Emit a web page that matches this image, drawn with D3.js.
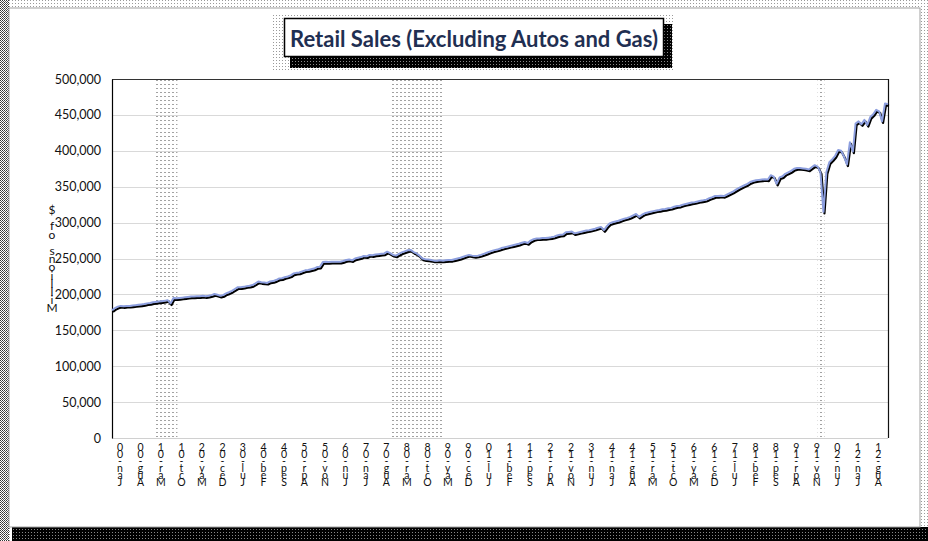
<!DOCTYPE html>
<html><head><meta charset="utf-8">
<script src="https://cdn.jsdelivr.net/npm/d3@7"></script>
<style>html,body{margin:0;padding:0;background:#fff}svg{display:block}</style>
</head><body>
<svg id="chart" width="928" height="541"></svg>
<script>
// ---------------- DATA ----------------
const chartTitle = "Retail Sales (Excluding Autos and Gas)";
const yAxisTitle = "Millions of $";
const firstMonth = "2000-01";
// Monthly retail sales excluding autos and gas, millions of $, Jan 2000 - Feb 2022
const sales = [
  178000,181000,183000,184000,183500,184000,184000,184500,185000,185500,186000,186500, // 2000
  187500,188000,189000,189500,190000,190500,191000,192000,187500,195000,194500,195000, // 2001
  195500,196000,196500,197000,197000,197500,197500,198000,197500,198000,199000,200500, // 2002
  199500,198000,199000,201500,203000,205000,207500,210000,210000,210500,211500,212000, // 2003
  213000,215500,218000,217000,216500,216000,218000,218500,220000,222000,222500,224000, // 2004
  225000,226500,229000,230000,230500,232000,233500,234000,235000,236000,238000,238500, // 2005
  245000,245500,245000,245500,245500,245500,245500,246500,248000,248500,247500,250000, // 2006
  251000,252000,253500,253000,255000,254500,255500,256000,256500,257000,259500,257500, // 2007
  255000,254000,256500,258500,260000,261500,262000,259000,257000,254000,250000,249000, // 2008
  248500,248000,247000,247000,247500,247000,247500,248000,248000,249000,250000,251000, // 2009
  252500,254000,255000,254000,253500,254000,255000,256500,258000,259500,261000,262000, // 2010
  263000,264500,265500,266500,267500,268500,269500,270500,272000,273000,271500,275000, // 2011
  277000,278000,278000,278500,278500,279000,279500,280500,282000,283000,283500,286500, // 2012
  287000,287500,285000,286000,287000,288000,289000,289500,290500,291500,293000,294000, // 2013
  289500,295000,299000,300500,301500,302500,304000,305500,306500,308000,310000,312000, // 2014
  308000,311000,313000,314000,315000,316000,317000,317500,318500,319000,320000,320500, // 2015
  322000,323000,323500,325000,326000,327000,328000,328500,329500,330500,331000,332000, // 2016
  334000,335500,337000,337000,337500,337000,339000,341000,343000,345500,348000,350000, // 2017
  352000,354000,356500,358000,359000,359500,360000,360500,360000,366000,364000,354000, // 2018
  363000,364500,368000,370000,372000,375000,376000,376000,375500,375000,374000,377000, // 2019
  380000,378000,370000,315000,370000,384000,388000,393000,401000,400000,392000,381000, // 2020
  412000,399000,438000,441000,437000,443000,436000,447000,451000,457000,455000,441000, // 2021
  466000,465000                                                                        // 2022
];
const xTickLabels = ["Jan-00","Aug-00","Mar-01","Oct-01","May-02","Dec-02","Jul-03","Feb-04","Sep-04",
  "Apr-05","Nov-05","Jun-06","Jan-07","Aug-07","Mar-08","Oct-08","May-09","Dec-09","Jul-10","Feb-11",
  "Sep-11","Apr-12","Nov-12","Jun-13","Jan-14","Aug-14","Mar-15","Oct-15","May-16","Dec-16","Jul-17",
  "Feb-18","Sep-18","Apr-19","Nov-19","Jun-20","Jan-21","Aug-21"];
const yTickValues = [0,50000,100000,150000,200000,250000,300000,350000,400000,450000,500000];
const recessionStarts = ["2001-04","2007-12","2020-02"];
const recessionEnds   = ["2001-11","2009-06","2020-04"];

// ---------------- LAYOUT ----------------
const svg = d3.select("#chart");
const W = 928, H = 541;
const plot = {left:112, right:888, top:79, bottom:438};
const parseYM = d3.timeParse("%Y-%m");
const parseLbl = d3.timeParse("%b-%y");
const start = parseYM(firstMonth);
const data = sales.map((v,i)=>({date:d3.timeMonth.offset(start,i), value:v}));

const x = d3.scaleTime()
  .domain([data[0].date, data[data.length-1].date])
  .range([plot.left, plot.right]);
const y = d3.scaleLinear().domain([0,500000]).range([plot.bottom, plot.top]);

// patterns
const defs = svg.append("defs");
const pLight = defs.append("pattern").attr("id","lightDither").attr("patternUnits","userSpaceOnUse")
  .attr("width",3).attr("height",3);
pLight.append("rect").attr("width",3).attr("height",3).attr("fill","#fff");
pLight.append("rect").attr("x",0).attr("y",0).attr("width",1).attr("height",1).attr("fill","#9a9a9a");
const pMid = defs.append("pattern").attr("id","midDither").attr("patternUnits","userSpaceOnUse")
  .attr("width",2).attr("height",2);
pMid.append("rect").attr("width",2).attr("height",2).attr("fill","#fff");
pMid.append("rect").attr("width",1).attr("height",1).attr("fill","#333");
pMid.append("rect").attr("x",1).attr("y",1).attr("width",1).attr("height",1).attr("fill","#555");
const pDark = defs.append("pattern").attr("id","darkDither").attr("patternUnits","userSpaceOnUse")
  .attr("width",3).attr("height",3);
pDark.append("rect").attr("width",3).attr("height",3).attr("fill","#000");
pDark.append("rect").attr("x",1).attr("y",1).attr("width",1).attr("height",1).attr("fill","#888");
const pDots = defs.append("pattern").attr("id","recDots").attr("patternUnits","userSpaceOnUse")
  .attr("width",4).attr("height",4).attr("x",plot.left+0.5).attr("y",plot.top);
pDots.append("rect").attr("x",0).attr("y",1).attr("width",1).attr("height",1).attr("fill","#444");

// background + frame
svg.append("rect").attr("width",W).attr("height",H).attr("fill","url(#lightDither)");
svg.append("rect").attr("x",0).attr("y",0).attr("width",9).attr("height",H).attr("fill","url(#midDither)");
svg.append("rect").attr("x",12).attr("y",527).attr("width",W-12).attr("height",H-527).attr("fill","url(#darkDither)");
svg.append("rect").attr("x",9).attr("y",8).attr("width",911).attr("height",519)
  .attr("fill","#fff").attr("stroke","#a0a0a0").attr("stroke-width",1);

// recession shading
svg.append("g").selectAll("rect").data(recessionStarts.map((s,i)=>[parseYM(s),parseYM(recessionEnds[i])]))
  .join("rect")
  .attr("x",d=>x(d[0])).attr("width",d=>Math.max(5,x(d[1])-x(d[0])+1))
  .attr("y",plot.top).attr("height",plot.bottom-plot.top)
  .attr("fill","url(#recDots)");

// gridlines
svg.append("g").selectAll("line").data(yTickValues.filter(v=>v>0)).join("line")
  .attr("x1",plot.left).attr("x2",plot.right)
  .attr("y1",d=>Math.round(y(d))+0.5).attr("y2",d=>Math.round(y(d))+0.5)
  .attr("stroke","#d9d9d9").attr("stroke-width",1);

// bottom axis line
svg.append("line").attr("x1",plot.left).attr("x2",plot.right)
  .attr("y1",plot.bottom+0.5).attr("y2",plot.bottom+0.5).attr("stroke","#d0d0d0");
// top & right frame
svg.append("line").attr("x1",plot.left).attr("x2",plot.right+0.5)
  .attr("y1",plot.top+0.5).attr("y2",plot.top+0.5).attr("stroke","#333");
svg.append("line").attr("x1",plot.right+0.5).attr("x2",plot.right+0.5)
  .attr("y1",plot.top).attr("y2",plot.bottom).attr("stroke","#111").attr("stroke-width",1.2);

// Y axis
const yAxis = d3.axisLeft(y).tickValues(yTickValues).tickFormat(d3.format(",")).tickSize(0).tickPadding(11);
const gy = svg.append("g").attr("transform",`translate(${plot.left},0)`).call(yAxis);
gy.select(".domain").attr("stroke","#000").attr("stroke-width",1.2);
gy.selectAll("text").attr("font-family","Lato, 'Open Sans', sans-serif").attr("font-size",12.5).attr("fill","#111");

// X axis (stacked vertical labels, characters upright, reading bottom-to-top)
const gx = svg.append("g");
const lbl = gx.selectAll("text").data(xTickLabels).join("text")
  .attr("x",d=>x(parseLbl(d))+8)
  .attr("y",451)
  .attr("text-anchor","middle")
  .attr("font-family","Lato, 'Open Sans', sans-serif").attr("font-size",10.5).attr("fill","#111");
lbl.each(function(d){
  const chars = d.split("").reverse();
  const t = d3.select(this);
  const xx = t.attr("x");
  chars.forEach((c,i)=>{
    t.append("tspan").attr("x",xx).attr("dy",i===0?0:6.9).text(c);
  });
});

// Y axis title stacked
const yt = svg.append("text").attr("x",52).attr("y",214).attr("text-anchor","middle")
  .attr("font-family","Lato, 'Open Sans', sans-serif").attr("font-size",12).attr("fill","#111");
yAxisTitle.split("").reverse().forEach((c,i)=>{
  yt.append("tspan").attr("x",52).attr("dy",i===0?0:8.2).text(c===" "?"\u00a0":c);
});

// series line: black shadow + periwinkle line
const line = d3.line().x(d=>x(d.date)).y(d=>y(d.value));
svg.append("path").datum(data).attr("d",line)
  .attr("transform","translate(1,1.6)")
  .attr("fill","none").attr("stroke","#000").attr("stroke-width",2.2).attr("stroke-linejoin","round");
svg.append("path").datum(data).attr("d",line)
  .attr("fill","none").attr("stroke","#8c9ede").attr("stroke-width",2).attr("stroke-linejoin","round");

// Title box
svg.append("rect").attr("x",273).attr("y",13).attr("width",402).attr("height",57).attr("fill","url(#lightDither)");
svg.append("rect").attr("x",290).attr("y",24).attr("width",382).attr("height",44).attr("fill","url(#darkDither)");
svg.append("rect").attr("x",284.5).attr("y",18.5).attr("width",379).attr("height",38)
  .attr("fill","#fff").attr("stroke","#000").attr("stroke-width",1.5);
svg.append("text").attr("x",474).attr("y",46.5).attr("text-anchor","middle")
  .attr("font-family","Lato, 'Open Sans', sans-serif").attr("font-weight","bold").attr("font-size",22)
  .attr("fill","#1f2f52")
  .attr("textLength",368).attr("lengthAdjust","spacingAndGlyphs")
  .text(chartTitle);
</script>
</body></html>
